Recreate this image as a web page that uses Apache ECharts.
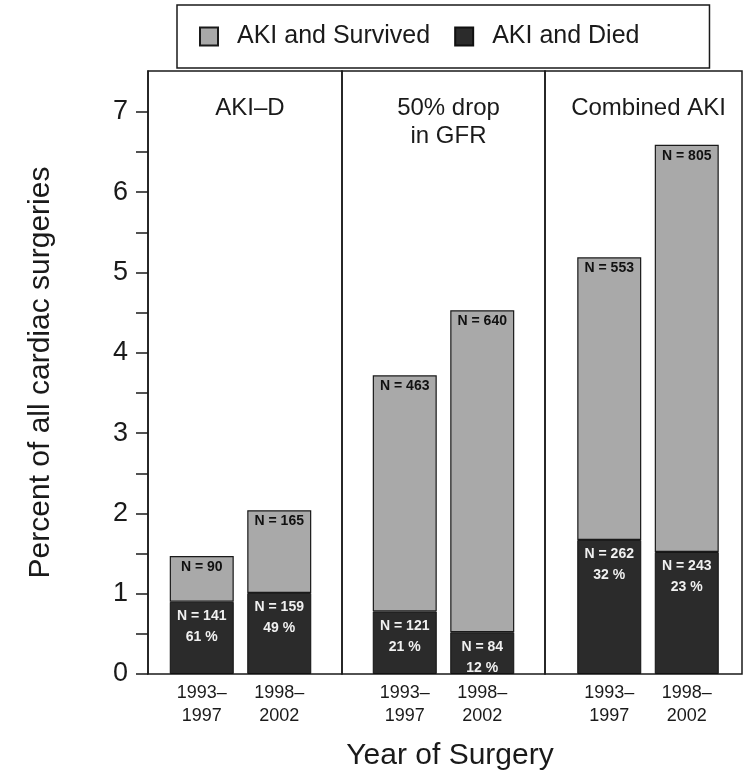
<!DOCTYPE html>
<html><head><meta charset="utf-8">
<script src="https://cdn.jsdelivr.net/npm/echarts@6/dist/echarts.min.js"></script>
<style>html,body{margin:0;padding:0;background:#fff}#c{width:746px;height:773px}</style>
</head><body><div id="c"></div>
<script>
// ---- data ----
const panels = ['AKI\u2013D', '50% drop\nin GFR', 'Combined AKI'];
const periods = ['1993\u2013\n1997', '1998\u2013\n2002'];
const diedPct = [[0.90, 1.01], [0.78, 0.52], [1.67, 1.52]];
const survivedPct = [[0.57, 1.03], [2.94, 4.01], [3.52, 5.07]];
const diedN = [[141, 159], [121, 84], [262, 243]];
const survivedN = [[90, 165], [463, 640], [553, 805]];
const diedShare = [[61, 49], [21, 12], [32, 23]];
const yTickLabels = [0, 1, 2, 3, 4, 5, 6, 7];
const yMinorTicks = [0, 0.5, 1, 1.5, 2, 2.5, 3, 3.5, 4, 4.5, 5, 5.5, 6, 6.5, 7];
const seriesNames = ['AKI and Survived', 'AKI and Died'];

// ---- layout ----
const FONT = '"Liberation Sans", Arial, Helvetica, sans-serif';
const TOP = 71, BOTTOM = 99, YMAX = 7.51;
const frames = [[148, 194], [342, 203], [545, 197]];
const dataGrids = [[163, 155], [366, 155], [570.5, 155]];
const SURV = '#a9a9a9', DIED = '#2b2b2b';

const grid = [], xAxis = [], yAxis = [], series = [], title = [];
frames.forEach((f, i) => {
  grid.push({left: f[0], width: f[1], top: TOP, bottom: BOTTOM, show: true,
    borderColor: '#1a1a1a', borderWidth: 1.5, backgroundColor: 'transparent'});
  xAxis.push({type: 'value', gridIndex: i, min: 0, max: 1, show: false});
  if (i === 0) {
    yAxis.push({type: 'value', gridIndex: i, min: 0, max: YMAX,
      name: 'Percent of all cardiac surgeries', nameLocation: 'middle', nameGap: 92,
      nameTextStyle: {fontSize: 30, fontFamily: FONT, color: '#1a1a1a'},
      axisLine: {show: true, lineStyle: {color: '#1a1a1a', width: 1.5}},
      axisTick: {show: true, length: 12, customValues: yMinorTicks, lineStyle: {color: '#1a1a1a', width: 1.5}},
      axisLabel: {customValues: yTickLabels, fontSize: 27, fontFamily: FONT, color: '#1a1a1a', margin: 20},
      splitLine: {show: false}});
  } else {
    yAxis.push({type: 'value', gridIndex: i, min: 0, max: YMAX, show: false});
  }
});
dataGrids.forEach((g, p) => {
  const gi = 3 + p;
  grid.push({left: g[0], width: g[1], top: TOP, bottom: BOTTOM, show: false});
  xAxis.push({type: 'category', gridIndex: gi, data: periods,
    axisLine: {show: false}, axisTick: {show: false},
    axisLabel: {fontSize: 18, lineHeight: 23, fontFamily: FONT, color: '#1a1a1a', margin: 8}});
  yAxis.push({type: 'value', gridIndex: gi, min: 0, max: YMAX, show: false});
  series.push({name: seriesNames[1], type: 'bar', stack: 'p' + p, xAxisIndex: gi, yAxisIndex: gi,
    barWidth: 64, data: diedPct[p],
    itemStyle: {color: DIED, borderColor: '#111', borderWidth: 1},
    label: {show: true, position: 'insideTop', distance: 4, color: '#f0f0f0', fontSize: 14,
      fontWeight: 'bold', fontFamily: FONT, lineHeight: 21,
      formatter: d => 'N = ' + diedN[p][d.dataIndex] + '\n' + diedShare[p][d.dataIndex] + ' %'}});
  series.push({name: seriesNames[0], type: 'bar', stack: 'p' + p, xAxisIndex: gi, yAxisIndex: gi,
    barWidth: 64, data: survivedPct[p],
    itemStyle: {color: SURV, borderColor: '#1a1a1a', borderWidth: 1.2},
    label: {show: true, position: 'insideTop', distance: 4, color: '#111', fontSize: 14,
      fontWeight: 'bold', fontFamily: FONT,
      formatter: d => 'N = ' + survivedN[p][d.dataIndex]}});
  title.push({text: panels[p], left: frames[p][0] + frames[p][1] / 2, top: 89, textAlign: 'center',
    textStyle: {fontSize: 24, fontWeight: 'normal', fontFamily: FONT, color: '#1a1a1a', lineHeight: 28}});
});
title.push({text: 'Year of Surgery', left: 445, top: 736, textAlign: 'center',
  textStyle: {fontSize: 30, fontWeight: 'normal', fontFamily: FONT, color: '#1a1a1a'}});

const chart = echarts.init(document.getElementById('c'), null, {renderer: 'canvas'});
chart.setOption({
  animation: false,
  backgroundColor: '#fff',
  title: title,
  legend: {data: seriesNames, left: 177, top: 5, orient: 'horizontal',
    padding: [19, 70, 19, 22], itemGap: 24, itemWidth: 18, itemHeight: 18, icon: 'rect',
    borderColor: '#1a1a1a', borderWidth: 1.5,
    textStyle: {fontSize: 25, fontFamily: FONT, color: '#1a1a1a', padding: [0, 0, 0, 14]}},
  grid: grid, xAxis: xAxis, yAxis: yAxis, series: series
});
</script></body></html>
